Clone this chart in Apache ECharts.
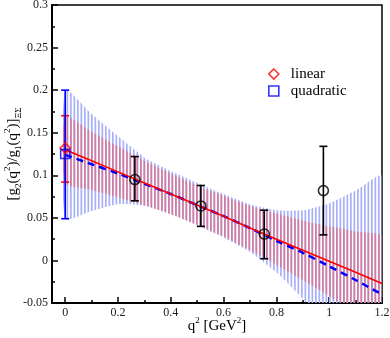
<!DOCTYPE html>
<html>
<head>
<meta charset="utf-8">
<script src="https://cdn.jsdelivr.net/npm/echarts@6/dist/echarts.min.js"></script>
<style>
  html, body { margin: 0; padding: 0; background: #fff; }
  #chart { width: 390px; height: 338px; }
</style>
</head>
<body>
<div id="chart"></div>
<script>
// fit curves, read at every 0.1 in q^2
const fitX       = [0, 0.1, 0.2, 0.3, 0.4, 0.5, 0.6, 0.7, 0.8, 0.9, 1.0, 1.1, 1.2];
const linCenter  = [0.130, 0.117, 0.104, 0.091, 0.078, 0.065, 0.052, 0.038, 0.025, 0.012, -0.001, -0.014, -0.027];
const linUpper   = [0.169, 0.151, 0.134, 0.117, 0.102, 0.088, 0.076, 0.064, 0.055, 0.047, 0.040, 0.034, 0.028];
const linLower   = [0.091, 0.083, 0.074, 0.065, 0.054, 0.042, 0.028, 0.012, -0.005, -0.023, -0.042, -0.062, -0.082];
const quadCenter = [0.124, 0.113, 0.102, 0.090, 0.078, 0.065, 0.052, 0.038, 0.023, 0.009, -0.007, -0.023, -0.040];
const quadUpper  = [0.200, 0.172, 0.146, 0.121, 0.105, 0.091, 0.078, 0.066, 0.059, 0.059, 0.067, 0.082, 0.099];
const quadLower  = [0.049, 0.058, 0.066, 0.064, 0.055, 0.041, 0.027, 0.010, -0.014, -0.045, -0.081, -0.128, -0.179];

// lattice points
const latX  = [0.264, 0.514, 0.754, 0.978];
const latY  = [0.095, 0.064, 0.031, 0.082];
const latLo = [0.070, 0.040, 0.002, 0.030];
const latHi = [0.122, 0.088, 0.059, 0.134];

// extrapolated values at q^2 = 0: [x, y, low, high]
const linPoint  = [0, 0.132, 0.092, 0.170];
const quadPoint = [0, 0.125, 0.049, 0.200];

const xMajor = [0, 0.2, 0.4, 0.6, 0.8, 1.0, 1.2];
const xMinor = [0.1, 0.3, 0.5, 0.7, 0.9, 1.1];

const serif = 'Liberation Serif';

function stripes(color) {
    const c = document.createElement('canvas');
    c.width = 7;
    c.height = 8;
    const ctx = c.getContext('2d');
    ctx.fillStyle = color;
    ctx.fillRect(0, 0, 1.7, 8);
    ctx.fillRect(3.5, 0, 1.7, 8);
    return { image: c, repeat: 'repeat' };
}

function bandSeries(lower, upper, fill) {
    return {
        type: 'custom',
        silent: true,
        data: fitX.map((x, i) => [x, lower[i], upper[i]]),
        encode: { x: 0, y: [1, 2] },
        renderItem(params, api) {
            if (params.dataIndex > 0) return;
            const pts = [];
            for (let i = 0; i < fitX.length; i++) pts.push(api.coord([fitX[i], upper[i]]));
            for (let i = fitX.length - 1; i >= 0; i--) pts.push(api.coord([fitX[i], lower[i]]));
            const cs = params.coordSys;
            return {
                type: 'polygon',
                shape: { points: pts, smooth: 0.2 },
                style: { fill: fill },
                clipPath: { type: 'rect', shape: { x: cs.x, y: cs.y, width: cs.width, height: cs.height } }
            };
        }
    };
}

function errSeries(xs, lo, hi, color, cap) {
    return {
        type: 'custom',
        silent: true,
        data: xs.map((x, i) => [x, lo[i], hi[i]]),
        encode: { x: 0, y: [1, 2] },
        z: 4,
        renderItem(params, api) {
            const x = api.value(0);
            const a = api.coord([x, api.value(1)]);
            const b = api.coord([x, api.value(2)]);
            const st = { stroke: color, lineWidth: 1.6 };
            return {
                type: 'group',
                children: [
                    { type: 'line', shape: { x1: a[0], y1: a[1], x2: b[0], y2: b[1] }, style: st },
                    { type: 'line', shape: { x1: a[0] - cap, y1: a[1], x2: a[0] + cap, y2: a[1] }, style: st },
                    { type: 'line', shape: { x1: b[0] - cap, y1: b[1], x2: b[0] + cap, y2: b[1] }, style: st }
                ]
            };
        }
    };
}

const chart = echarts.init(document.getElementById('chart'));

chart.setOption({
    animation: false,
    grid: {
        left: 52, right: 8, top: 5, bottom: 35,
        outerBoundsMode: 'none', containLabel: false,
        show: true, borderColor: '#000', borderWidth: 1.5
    },
    legend: {
        left: 263,
        top: 61,
        orient: 'vertical',
        itemWidth: 10,
        itemHeight: 10,
        itemGap: 1,
        textStyle: { fontFamily: serif, fontSize: 15, lineHeight: 16, color: '#000', padding: [0, 0, 0, 7] },
        data: [
            { name: 'linear', icon: 'diamond', itemStyle: { color: 'transparent', borderColor: '#ff0000', borderWidth: 1.6 } },
            { name: 'quadratic', icon: 'rect', itemStyle: { color: 'transparent', borderColor: '#0000ff', borderWidth: 1.6 } }
        ]
    },
    xAxis: [{
        type: 'value',
        min: -0.05,
        max: 1.2,
        position: 'bottom',
        axisLine: { show: true, onZero: false, lineStyle: { color: '#000', width: 2 } },
        splitLine: { show: false },
        axisTick: { inside: true, length: 6, customValues: xMajor, lineStyle: { color: '#000', width: 1.5 } },
        axisLabel: { customValues: xMajor, margin: 4, fontFamily: serif, fontSize: 12, color: '#222' },
        name: '{t|q}{p|2}{t| [GeV}{p|2}{t|]}',
        nameLocation: 'middle',
        nameMoveOverlap: false,
        nameGap: 13,
        nameTextStyle: {
            fontFamily: serif,
            rich: {
                t: { fontFamily: serif, fontSize: 15, color: '#000', lineHeight: 20 },
                p: { fontFamily: serif, fontSize: 9, color: '#000', verticalAlign: 'top' }
            }
        }
    }, {
        type: 'value',
        min: -0.05,
        max: 1.2,
        position: 'bottom',
        axisLine: { show: false, onZero: false },
        splitLine: { show: false },
        axisLabel: { show: false },
        axisTick: { inside: true, length: 3, customValues: xMinor, lineStyle: { color: '#000', width: 1.5 } }
    }],
    yAxis: {
        type: 'value',
        min: -0.05,
        max: 0.3,
        interval: 0.05,
        axisLine: { show: true, onZero: false, lineStyle: { color: '#000', width: 2 } },
        splitLine: { show: false },
        axisTick: { inside: true, length: 6, lineStyle: { color: '#000', width: 1.5 } },
        minorTick: { show: true, splitNumber: 2, length: 3, lineStyle: { color: '#000', width: 1.5 } },
        axisLabel: { margin: 4, fontFamily: serif, fontSize: 12, color: '#222' },
        name: '{t|[g}{s|2}{t|(q}{p|2}{t|)/g}{s|1}{t|(q}{p|2}{t|)]}{s|ΞΣ}',
        nameLocation: 'middle',
        nameMoveOverlap: false,
        nameGap: 29,
        nameTextStyle: {
            fontFamily: serif,
            rich: {
                t: { fontFamily: serif, fontSize: 15, color: '#000', lineHeight: 20 },
                p: { fontFamily: serif, fontSize: 9, color: '#000', verticalAlign: 'top' },
                s: { fontFamily: serif, fontSize: 9, color: '#000', verticalAlign: 'bottom' }
            }
        }
    },
    series: [
        bandSeries(quadLower, quadUpper, stripes('rgb(168,176,250)')),
        bandSeries(linLower, linUpper, stripes('rgb(210,125,160)')),
        {
            type: 'line',
            data: fitX.map((x, i) => [x, quadCenter[i]]),
            symbol: 'none',
            smooth: 0.3,
            lineStyle: { color: '#0000ff', width: 2.5, type: [7, 5] },
            z: 3
        },
        {
            type: 'line',
            data: fitX.map((x, i) => [x, linCenter[i]]),
            symbol: 'none',
            lineStyle: { color: '#ff0000', width: 1.6 },
            z: 3
        },
        errSeries([linPoint[0]], [linPoint[2]], [linPoint[3]], '#ff0000', 4),
        errSeries([quadPoint[0]], [quadPoint[2]], [quadPoint[3]], '#0000ff', 4),
        errSeries(latX, latLo, latHi, '#000', 4),
        {
            name: 'linear',
            type: 'scatter',
            data: [[linPoint[0], linPoint[1]]],
            symbol: 'diamond',
            symbolSize: 10,
            itemStyle: { color: 'transparent', borderColor: '#ff0000', borderWidth: 1.6 },
            z: 5
        },
        {
            name: 'quadratic',
            type: 'scatter',
            data: [[quadPoint[0], quadPoint[1]]],
            symbol: 'rect',
            symbolSize: 9,
            itemStyle: { color: 'transparent', borderColor: '#0000ff', borderWidth: 1.6 },
            z: 5
        },
        {
            type: 'scatter',
            data: latX.map((x, i) => [x, latY[i]]),
            symbol: 'circle',
            symbolSize: 10,
            itemStyle: { color: 'transparent', borderColor: '#000', borderWidth: 1.6 },
            z: 5
        }
    ]
});
</script>
</body>
</html>
